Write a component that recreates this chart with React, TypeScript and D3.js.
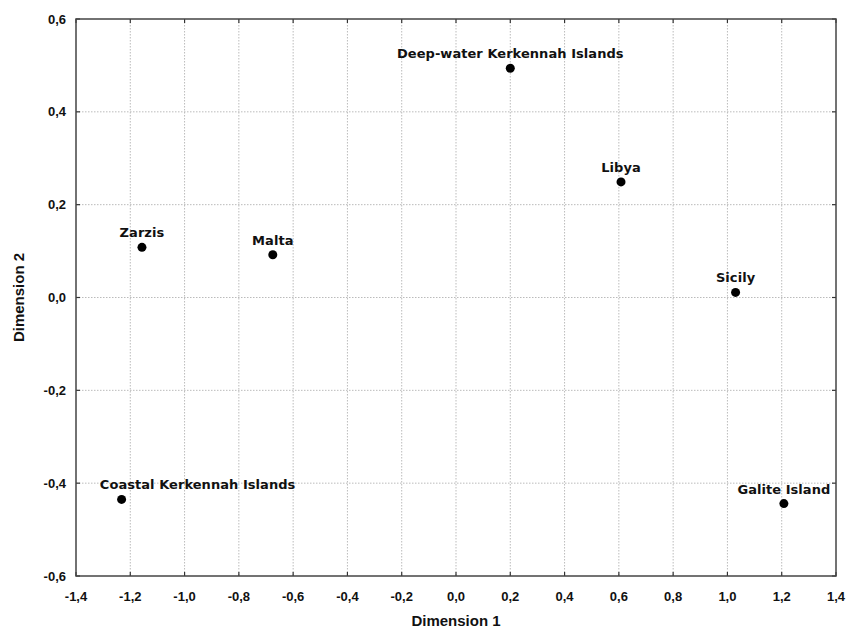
import React from "react";
import * as d3 from "d3";

const names = [
  "Deep-water Kerkennah Islands",
  "Libya",
  "Sicily",
  "Galite Island",
  "Zarzis",
  "Malta",
  "Coastal Kerkennah Islands",
];
const dim1 = [0.2, 0.608, 1.03, 1.208, -1.157, -0.675, -1.232];
const dim2 = [0.494, 0.249, 0.011, -0.444, 0.108, 0.092, -0.435];
const xTicks = [-1.4, -1.2, -1.0, -0.8, -0.6, -0.4, -0.2, 0.0, 0.2, 0.4, 0.6, 0.8, 1.0, 1.2, 1.4];
const yTicks = [-0.6, -0.4, -0.2, 0.0, 0.2, 0.4, 0.6];

// label horizontal shifts (px) relative to point
const labelShift: Record<string, number> = { "Coastal Kerkennah Islands": 76 };

const W = 846, H = 632;
const L = 76, R = 836, T = 19, B = 576;

const fmt = (v: number) => d3.format(".1f")(v).replace(".", ",").replace("−", "-");

export default function App() {
  const x = d3.scaleLinear().domain([-1.4, 1.4]).range([L, R]);
  const y = d3.scaleLinear().domain([-0.6, 0.6]).range([B, T]);
  const tickFont = "'Liberation Sans', Arial, sans-serif";
  return (
    <svg width={W} height={H} style={{ position: "absolute", left: 0, top: 0, background: "#fff" }}>
      {xTicks.slice(1, -1).map((t) => (
        <line key={"gx" + t} x1={x(t)} x2={x(t)} y1={T} y2={B} stroke="#bbb" strokeWidth={1} strokeDasharray="1.5,1.5" />
      ))}
      {yTicks.slice(1, -1).map((t) => (
        <line key={"gy" + t} x1={L} x2={R} y1={y(t)} y2={y(t)} stroke="#bbb" strokeWidth={1} strokeDasharray="1.5,1.5" />
      ))}
      {xTicks.map((t) => (
        <g key={"tx" + t}>
          <line x1={x(t)} x2={x(t)} y1={B} y2={B - 4} stroke="#333" strokeWidth={1.2} />
          <line x1={x(t)} x2={x(t)} y1={T} y2={T + 4} stroke="#333" strokeWidth={1.2} />
          <text x={x(t)} y={601} textAnchor="middle" fontFamily={tickFont} fontWeight="bold" fontSize={13} fill="#111">
            {fmt(t)}
          </text>
        </g>
      ))}
      {yTicks.map((t) => (
        <g key={"ty" + t}>
          <line x1={L} x2={L + 4} y1={y(t)} y2={y(t)} stroke="#333" strokeWidth={1.2} />
          <line x1={R} x2={R - 4} y1={y(t)} y2={y(t)} stroke="#333" strokeWidth={1.2} />
          <text x={66} y={y(t) + 4.5} textAnchor="end" fontFamily={tickFont} fontWeight="bold" fontSize={13} fill="#111">
            {fmt(t)}
          </text>
        </g>
      ))}
      <rect x={L} y={T} width={R - L} height={B - T} fill="none" stroke="#444" strokeWidth={1.5} />
      {names.map((n, i) => (
        <g key={n}>
          <circle cx={x(dim1[i])} cy={y(dim2[i])} r={4.5} fill="#000" />
          <text x={x(dim1[i]) + (labelShift[n] || 0)} y={y(dim2[i]) - 10} textAnchor="middle" fontFamily="'DejaVu Sans', sans-serif" fontWeight="bold" fontSize={13} fill="#111" letterSpacing={0.05}>
            {n}
          </text>
        </g>
      ))}
      <text x={(L + R) / 2} y={626} textAnchor="middle" fontFamily={tickFont} fontWeight="bold" fontSize={15} fill="#111">
        Dimension 1
      </text>
      <text transform={`translate(24,${(T + B) / 2}) rotate(-90)`} textAnchor="middle" fontFamily={tickFont} fontWeight="bold" fontSize={15} fill="#111">
        Dimension 2
      </text>
    </svg>
  );
}
